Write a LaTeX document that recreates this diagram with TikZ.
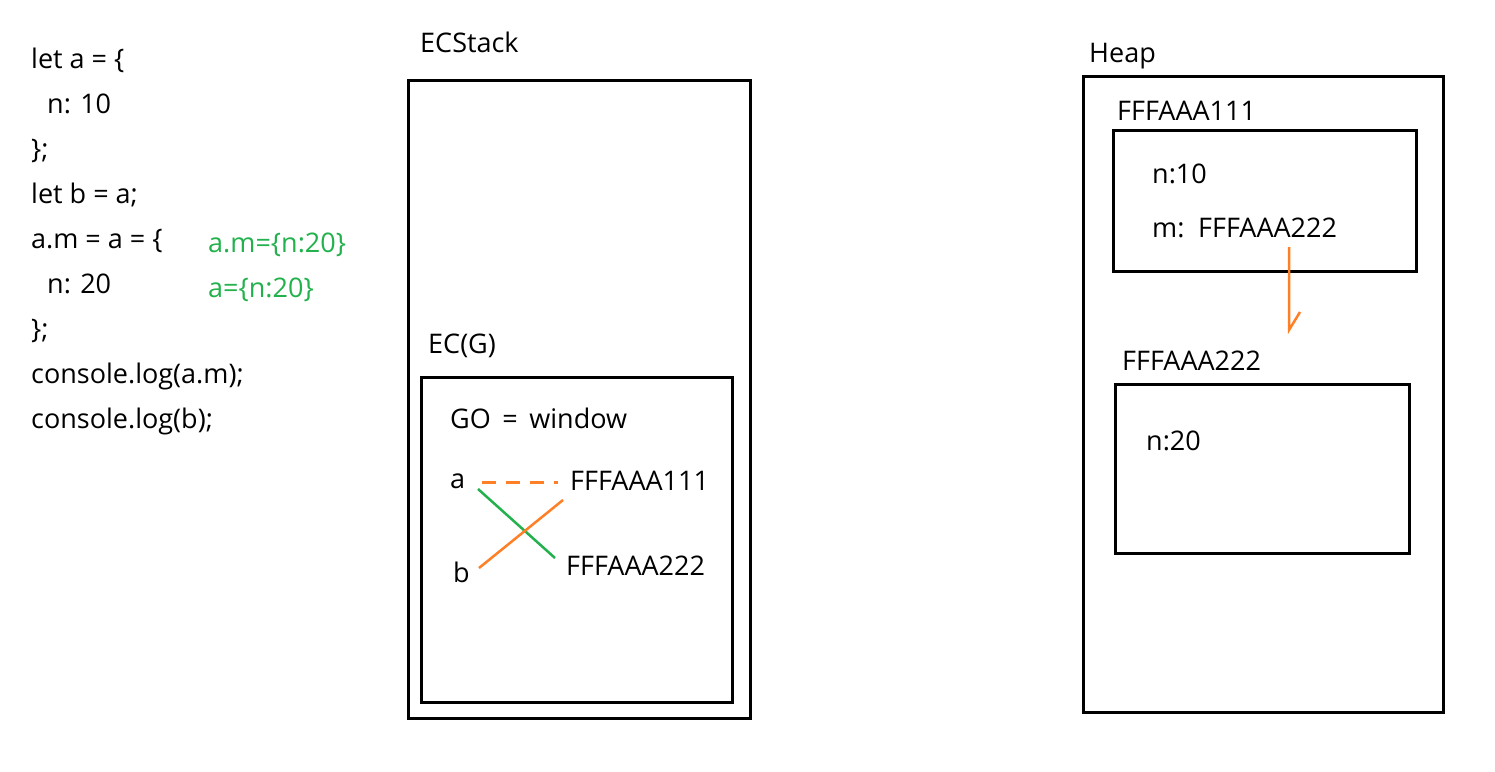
\documentclass[tikz,border=0pt]{standalone}
\usepackage{fontspec}
\setmainfont{Open Sans}
\definecolor{pgreen}{RGB}{34,177,76}
\definecolor{porange}{RGB}{255,127,39}
\tikzset{
  txt/.style={anchor=base west, inner sep=0pt, font=\fontsize{27}{31}\selectfont},
  gtxt/.style={txt, text=pgreen},
  box/.style={draw, line width=3pt, minimum width=#1, inner sep=0pt},
  oline/.style={draw=porange, line width=2.5pt},
  gline/.style={draw=pgreen, line width=2.5pt},
}
\begin{document}
\begin{tikzpicture}[x=1pt,y=-1pt]
\useasboundingbox (0,0) rectangle (1495,771);
% code
\node[txt] (c1) at (31,68) {let a = \{};
\node[txt] (c2) at (47,113) {n: 10};
\node[txt] (c3) at (31,158) {\};};
\node[txt] (c4) at (31,203) {let b = a;};
\node[txt] (c5) at (31,248) {a.m = a = \{};
\node[txt] (c6) at (47,293) {n: 20};
\node[txt] (c7) at (31,338) {\};};
\node[txt] (c8) at (31,383) {console.log(a.m);};
\node[txt] (c9) at (31,428) {console.log(b);};
\node[gtxt] (g1) at (208,252) {a.m=\{n:20\}};
\node[gtxt] (g2) at (208,297) {a=\{n:20\}};
% ECStack
\node[txt] (ecl) at (420,52) {ECStack};
\node[box=342pt, minimum height=638pt] (ecs) at (579,399) {};
\node[txt] (ecgl) at (428,353) {EC(G)};
\node[box=311pt, minimum height=325pt] (ecg) at (576.5,539.5) {};
\node[txt] (go) at (450,428) {GO \,=\, window};
\node[txt] (va) at (450,488) {a};
\node[txt] (vb) at (453,582) {b};
\node[txt] (p1) at (570,490) {FFFAAA111};
\node[txt] (p2) at (566,575) {FFFAAA222};
\coordinate (a1) at (482,482);
\coordinate (a2) at (558,482);
\coordinate (a3) at (478,489);
\coordinate (p2e) at (555,558);
\coordinate (b1) at (479,568);
\coordinate (p1e) at (563,500);
\draw[oline, line width=3pt, dash pattern=on 14pt off 10pt] (a1) -- (a2);
\draw[gline] (a3) -- (p2e);
\draw[oline] (b1) -- (p1e);
% Heap
\node[txt] (hl) at (1089,62) {Heap};
\node[box=360pt, minimum height=636pt] (heap) at (1263,394) {};
\node[txt] (h1l) at (1117,120) {FFFAAA111};
\node[box=303pt, minimum height=141pt] (h1) at (1264.5,201) {};
\node[txt] (n10) at (1152,183) {n:10};
\node[txt] (mm) at (1152,237) {m:};
\node[txt] (mref) at (1198,237) {FFFAAA222};
\node[txt] (h2l) at (1122,370) {FFFAAA222};
\node[box=294pt, minimum height=169pt] (h2) at (1262,468.5) {};
\node[txt] (n20) at (1146,450) {n:20};
\coordinate (ar1) at (1289,247);
\coordinate (ar2) at (1289,330);
\coordinate (ar3) at (1300,312);
\draw[oline] (ar1) -- (ar2) -- (ar3);
\end{tikzpicture}
\end{document}
